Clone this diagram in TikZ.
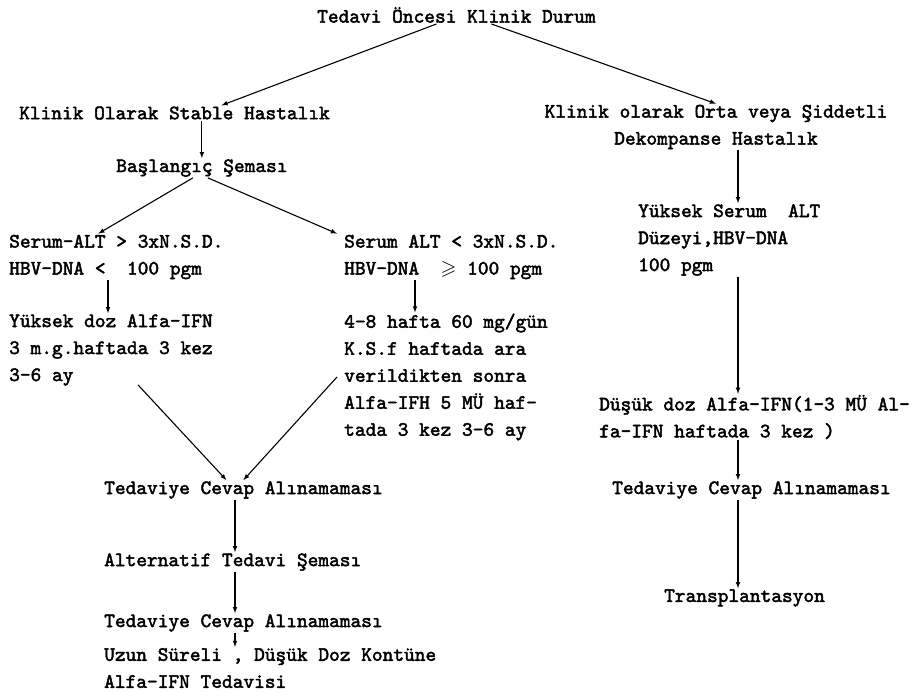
\documentclass[tikz,border=0pt]{standalone}
\usepackage{amssymb}
\usepackage{fontspec}
\newfontfamily\typer{lmmono10-regular}[Extension=.otf, FakeBold=2.2]
\usepackage{tikz}
\usetikzlibrary{arrows, positioning, calc}

\begin{document}
\begin{tikzpicture}[
    x=1pt, y=-1pt,      % <── one unit per pixel of the page
    every node/.style={inner sep=1pt, font=\typer\fontsize{20.4}{27}\selectfont},
    txt_node/.style={anchor=west, align=left},
    flow/.style={-latex, line width=1.1pt}
    ]
    \useasboundingbox (0,0) rectangle (920,691);

    % Nodes
    \node[txt_node] (start) at (316,15) {Tedavi Öncesi Klinik Durum};
    \node[txt_node] (stable) at (18,113) {Klinik Olarak Stable Hastalık};
    \node[align=center] (severe) at (716,127) {Klinik olarak Orta veya Şiddetli\\Dekompanse Hastalık};
    \node[txt_node] (scheme) at (115,168) {Başlangıç Şeması};
    \node[txt_node] (lowalt) at (8,257) {Serum-ALT > 3xN.S.D.\\HBV-DNA <\ \ 100 pgm};
    \node[txt_node] (highalt) at (343,257) {Serum ALT < 3xN.S.D.\\HBV-DNA\ \ $\geqslant$ 100 pgm};
    \node[txt_node] (highdose) at (8,350) {Yüksek doz Alfa-IFN\\3 m.g.haftada 3 kez\\3-6 ay};
    \node[txt_node] (steroid) at (343,377) {4-8 hafta 60 mg/gün\\K.S.f haftada ara\\verildikten sonra\\Alfa-IFH 5 MÜ haf-\\tada 3 kez 3-6 ay};
    \node[txt_node] (highserum) at (637,240) {Yüksek Serum\ \ ALT\\Düzeyi,HBV-DNA\\100 pgm};
    \node[txt_node] (lowdose) at (598,417) {Düşük doz Alfa-IFN(1-3 MÜ Al-\\fa-IFN haftada 3 kez )};
    \node[txt_node] (fail1) at (103,490) {Tedaviye Cevap Alınamaması};
    \node[txt_node] (alternative) at (103,562) {Alternatif Tedavi Şeması};
    \node[txt_node] (fail2) at (103,623) {Tedaviye Cevap Alınamaması};
    \node[txt_node] (longterm) at (103,668) {Uzun Süreli , Düşük Doz Kontüne\\Alfa-IFN Tedavisi};
    \node[txt_node] (fail3) at (611,490) {Tedaviye Cevap Alınamaması};
    \node[txt_node] (transplant) at (663,598) {Transplantasyon};

    % columns of the straight arrows
    \coordinate (lx) at (108,0);
    \coordinate (mx) at (415,0);
    \coordinate (cx) at (235,0);
    \coordinate (rx) at (738,0);

    % Arrows
    \draw[flow] ([xshift=-20pt]start.south) -- ([xshift=47pt]stable.north);
    \draw[flow] ([xshift=35pt]start.south) -- (severe.north);
    \draw[flow] (stable.south -| scheme.north) -- (scheme.north);
    \draw[flow] ([xshift=-9pt]scheme.south) -- ([xshift=-18pt]lowalt.north);
    \draw[flow] ([xshift=6pt]scheme.south) -- ([xshift=-6pt]highalt.north west);
    \draw[flow] (lx |- lowalt.south) -- (lx |- highdose.north);
    \draw[flow] (mx |- highalt.south) -- (mx |- steroid.north);
    \draw[flow] ([shift={(130pt,2pt)}]highdose.south west) -- ([xshift=-17pt]fail1.north);
    \draw[flow] ([xshift=-6pt]steroid.west) -- (fail1.north);
    \draw[flow] (cx |- fail1.south) -- (cx |- alternative.north);
    \draw[flow] (cx |- alternative.south) -- (cx |- fail2.north);
    \draw[flow] (cx |- fail2.south) -- (cx |- longterm.north);
    \draw[flow] (rx |- severe.south) -- (rx |- highserum.north);
    \draw[flow] (rx |- highserum.south) -- (rx |- lowdose.north);
    \draw[flow] (rx |- lowdose.south) -- (rx |- fail3.north);
    \draw[flow] (rx |- fail3.south) -- (rx |- transplant.north);
\end{tikzpicture}
\end{document}
